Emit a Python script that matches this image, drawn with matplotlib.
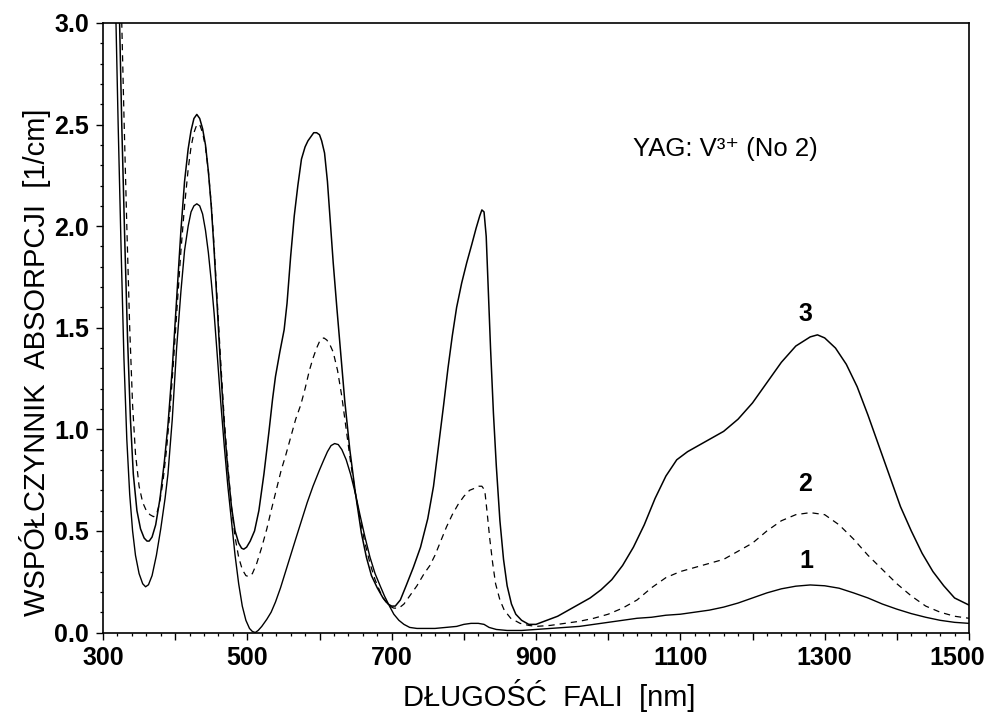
import matplotlib
matplotlib.use("Agg")
import matplotlib.pyplot as plt
from matplotlib.ticker import MultipleLocator, FuncFormatter
from matplotlib.transforms import ScaledTranslation
from matplotlib import font_manager as fm

# ---------------- data ----------------
wl3 = [316, 318, 323, 326, 330, 334, 338, 342, 347, 352, 357, 361, 364, 368, 373, 379, 385, 390, 396,
       402, 408, 413, 418, 422, 426, 430, 434, 438, 442, 446, 450, 454, 458, 463, 468, 473, 478, 483,
       488, 492, 495, 499, 504, 510, 516, 523, 530, 535, 539, 545, 551, 555, 560, 565, 570, 575, 580,
       584, 588, 592, 596, 600, 603, 607, 611, 615, 619, 624, 629, 635, 642, 650, 658, 665, 672, 680,
       688, 695, 700, 705, 712, 720, 730, 740, 750, 758, 765, 772, 778, 784, 790, 797, 804, 811, 817,
       822, 825, 828, 831, 834, 837, 841, 845, 850, 855, 860, 866, 872, 880, 890, 900, 915, 930, 945,
       960, 975, 990, 1005, 1020, 1035, 1050, 1065, 1080, 1095, 1110, 1125, 1140, 1160, 1180, 1200,
       1220, 1240, 1260, 1280, 1290, 1300, 1315, 1330, 1345, 1360, 1375, 1390, 1405, 1420, 1435, 1450,
       1465, 1480, 1500]
ab3 = [3.8, 3.5, 3.0, 2.5, 1.95, 1.45, 1.05, 0.78, 0.60, 0.51, 0.465, 0.45, 0.45, 0.47, 0.53, 0.66,
       0.84, 1.02, 1.30, 1.64, 1.98, 2.22, 2.38, 2.47, 2.53, 2.55, 2.53, 2.48, 2.40, 2.27, 2.10, 1.88,
       1.62, 1.30, 1.02, 0.80, 0.62, 0.50, 0.44, 0.415, 0.41, 0.42, 0.45, 0.50, 0.60, 0.78, 0.99, 1.15,
       1.26, 1.38, 1.49, 1.62, 1.85, 2.05, 2.20, 2.33, 2.39, 2.42, 2.44, 2.46, 2.46, 2.45, 2.42, 2.36,
       2.22, 2.02, 1.82, 1.60, 1.39, 1.14, 0.90, 0.68, 0.49, 0.37, 0.28, 0.22, 0.17, 0.14, 0.13, 0.13,
       0.16, 0.23, 0.32, 0.42, 0.56, 0.72, 0.92, 1.12, 1.30, 1.46, 1.60, 1.72, 1.82, 1.91, 1.99, 2.05,
       2.08, 2.07, 1.95, 1.68, 1.40, 1.08, 0.82, 0.55, 0.36, 0.23, 0.14, 0.09, 0.06, 0.04, 0.04, 0.06,
       0.08, 0.11, 0.14, 0.17, 0.21, 0.26, 0.33, 0.42, 0.53, 0.66, 0.77, 0.85, 0.89, 0.92, 0.95, 0.99,
       1.05, 1.13, 1.23, 1.33, 1.41, 1.455, 1.465, 1.45, 1.40, 1.32, 1.21, 1.07, 0.92, 0.77, 0.62, 0.50,
       0.39, 0.30, 0.23, 0.17, 0.135]

wl1 = [312, 318, 321, 325, 329, 333, 337, 341, 345, 350, 355, 359, 363, 368, 374, 380, 386, 390, 396,
       402, 408, 413, 418, 422, 426, 430, 434, 438, 442, 446, 450, 454, 458, 463, 468, 473, 478, 483,
       488, 493, 498, 503, 507, 511, 515, 520, 527, 533, 539, 546, 553, 560, 567, 575, 583, 591, 600,
       606, 611, 616, 621, 626, 631, 637, 643, 650, 656, 663, 670, 677, 684, 690, 697, 703, 710, 717,
       725, 735, 745, 760, 775, 790, 800, 810, 820, 828, 835, 845, 860, 880, 900, 920, 940, 960, 980,
       1000, 1020, 1040, 1060, 1080, 1100, 1120, 1140, 1160, 1180, 1200, 1220, 1240, 1260, 1280, 1300,
       1320, 1340, 1360, 1380, 1400, 1420, 1440, 1460, 1480, 1500]
ab1 = [3.8, 3.0, 2.5, 1.9, 1.35, 0.95, 0.68, 0.50, 0.38, 0.29, 0.24, 0.225, 0.235, 0.28, 0.38, 0.51,
       0.66, 0.78, 1.05, 1.40, 1.68, 1.88, 2.00, 2.07, 2.10, 2.11, 2.10, 2.06, 1.98, 1.87, 1.73, 1.57,
       1.38, 1.14, 0.92, 0.72, 0.55, 0.38, 0.24, 0.13, 0.06, 0.02, 0.005, 0.0, 0.01, 0.03, 0.065, 0.10,
       0.15, 0.22, 0.30, 0.38, 0.46, 0.55, 0.64, 0.72, 0.80, 0.85, 0.89, 0.92, 0.93, 0.925, 0.90, 0.85,
       0.78, 0.68, 0.58, 0.47, 0.37, 0.29, 0.23, 0.18, 0.13, 0.09, 0.06, 0.04, 0.025, 0.02, 0.02, 0.02,
       0.025, 0.03, 0.04, 0.045, 0.045, 0.04, 0.025, 0.015, 0.01, 0.01, 0.015, 0.02, 0.025, 0.03, 0.04,
       0.05, 0.06, 0.07, 0.075, 0.085, 0.09, 0.10, 0.11, 0.125, 0.145, 0.17, 0.195, 0.215, 0.228, 0.234,
       0.23, 0.218, 0.195, 0.17, 0.14, 0.115, 0.093, 0.075, 0.06, 0.05, 0.045]

wl2 = [322, 326, 329, 333, 337, 341, 345, 350, 355, 360, 365, 370, 374, 378, 383, 388, 393, 398, 403,
       408, 413, 418, 422, 426, 430, 434, 438, 442, 446, 450, 454, 458, 463, 468, 473, 478, 483, 488,
       493, 498, 502, 507, 513, 520, 527, 533, 540, 547, 553, 560, 567, 574, 580, 586, 591, 596, 601,
       606, 610, 614, 619, 625, 631, 637, 643, 650, 656, 663, 670, 677, 684, 690, 697, 703, 710, 717,
       725, 735, 745, 753, 760, 768, 776, 784, 792, 800, 808, 815, 821, 825, 829, 832, 836, 840, 844,
       850, 856, 865, 878, 890, 900, 920, 940, 960, 980, 1000, 1020, 1040, 1060, 1080, 1100, 1120,
       1140, 1160, 1180, 1200, 1220, 1240, 1260, 1280, 1300, 1320, 1340, 1360, 1380, 1400, 1420, 1440,
       1460, 1480, 1500]
ab2 = [3.6, 3.0, 2.55, 2.0, 1.5, 1.12, 0.88, 0.72, 0.64, 0.60, 0.58, 0.57, 0.58, 0.63, 0.74, 0.90,
       1.10, 1.35, 1.62, 1.88, 2.10, 2.28, 2.39, 2.46, 2.50, 2.50, 2.46, 2.39, 2.27, 2.11, 1.90, 1.65,
       1.34, 1.05, 0.82, 0.62, 0.47, 0.37, 0.31, 0.28, 0.275, 0.29, 0.34, 0.42, 0.51, 0.60, 0.70, 0.80,
       0.87, 0.96, 1.05, 1.12, 1.20, 1.29, 1.35, 1.40, 1.44, 1.45, 1.44, 1.42, 1.38, 1.29, 1.16, 1.00,
       0.84, 0.68, 0.56, 0.44, 0.34, 0.26, 0.20, 0.16, 0.13, 0.12, 0.12, 0.14, 0.18, 0.23, 0.29, 0.33,
       0.38, 0.45, 0.52, 0.58, 0.63, 0.67, 0.70, 0.71, 0.72, 0.72, 0.70, 0.60, 0.46, 0.34, 0.24, 0.16,
       0.11, 0.07, 0.045, 0.035, 0.03, 0.035, 0.045, 0.055, 0.07, 0.09, 0.12, 0.16, 0.22, 0.27, 0.30,
       0.32, 0.34, 0.36, 0.40, 0.44, 0.50, 0.55, 0.58, 0.59, 0.58, 0.53, 0.46, 0.38, 0.31, 0.24, 0.18,
       0.13, 0.10, 0.08, 0.07]

curve_labels = ["1", "2", "3"]
label_pos = [(1275, 0.35), (1273, 0.73), (1273, 1.57)]

x_label = "DŁUGOŚĆ  FALI  [nm]"
y_label = "WSPÓŁCZYNNIK  ABSORPCJI  [1/cm]"
annotation = "YAG: V³⁺ (No 2)"

# ---------------- style ----------------
names = {f.name for f in fm.fontManager.ttflist}
base = "Liberation Sans" if "Liberation Sans" in names else "DejaVu Sans"
narrow = "Liberation Sans Narrow" if "Liberation Sans Narrow" in names else base
plt.rcParams["font.family"] = [base, "DejaVu Sans"]

fig = plt.figure(figsize=(9.88, 7.18), dpi=100, facecolor="white")
ax = fig.add_axes([103 / 988, 1 - 632.5 / 718, 866 / 988, 609.5 / 718])

ax.plot(wl1, ab1, color="black", lw=1.0, solid_joinstyle="round")
ax.plot(wl2, ab2, color="black", lw=0.9, dashes=(5, 4))
ax.plot(wl3, ab3, color="black", lw=1.1, solid_joinstyle="round")

ax.set_xlim(300, 1500)
ax.set_ylim(0, 3.0)

ax.xaxis.set_major_locator(MultipleLocator(100))
ax.xaxis.set_minor_locator(MultipleLocator(20))
ax.xaxis.set_major_formatter(FuncFormatter(lambda v, p: f"{int(round(v))}" if int(round(v - 300)) % 200 == 0 else ""))
ax.yaxis.set_major_locator(MultipleLocator(0.5))
ax.yaxis.set_minor_locator(MultipleLocator(0.1))
ax.yaxis.set_major_formatter(FuncFormatter(lambda v, p: f"{v:.1f}"))

ax.tick_params(which="major", direction="out", length=5, width=1.0, labelsize=18, pad=5)
ax.tick_params(which="minor", direction="out", length=2.5, width=0.9)
ax.tick_params(top=False, right=False)
for lab in ax.get_xticklabels() + ax.get_yticklabels():
    lab.set_fontweight("bold")

fig.canvas.draw()
# last x label sits slightly left so it stays inside the picture
for lab in ax.get_xticklabels():
    if lab.get_text() == "1500":
        lab.set_transform(lab.get_transform() + ScaledTranslation(-0.12, 0, fig.dpi_scale_trans))

for s in ax.spines.values():
    s.set_linewidth(1.2)

ax.set_xlabel(x_label, fontsize=21, family=[narrow, base, "DejaVu Sans"])
ax.xaxis.set_label_coords((549 - 103) / 866, (632.5 - 695) / 609.5)
ax.xaxis.label.set_va("center")
ax.set_ylabel(y_label, fontsize=21, fontweight="medium")
ax.yaxis.set_label_coords((35 - 103) / 866, (632.5 - 362) / 609.5)
ax.yaxis.label.set_va("center")

ax.text(1034, 2.38, annotation, fontsize=18.5, ha="left", va="center")
for t, (xx, yy) in zip(curve_labels, label_pos):
    ax.text(xx, yy, t, fontsize=18, fontweight="bold", ha="center", va="center")

fig.savefig("out.png", dpi=100, facecolor="white")
